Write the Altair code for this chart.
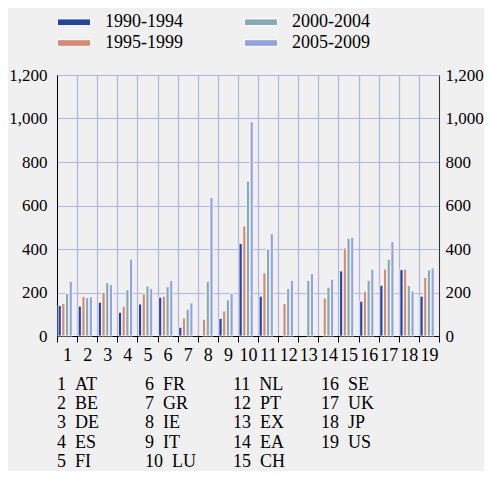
import altair as alt
import pandas as pd

groups = list(range(1, 20))
codes = ["AT", "BE", "DE", "ES", "FI", "FR", "GR", "IE", "IT", "LU",
         "NL", "PT", "EX", "EA", "CH", "SE", "UK", "JP", "US"]
periods = ["1990-1994", "1995-1999", "2000-2004", "2005-2009"]
v1990 = [140, 137, 155, 109, 147, 178, 40, None, 81, 425, 183, None, None, None, 299, 160, 233, 305, 183]
v1995 = [150, 181, 201, 137, 193, 183, 83, 77, 115, 506, 290, 149, None, 175, 404, 206, 308, 308, 269]
v2000 = [195, 176, 245, 213, 230, 227, 123, 252, 166, 712, 400, 218, 256, 224, 450, 256, 353, 232, 304]
v2005 = [252, 180, 236, 353, 219, 255, 152, 637, 196, 985, 471, 256, 287, 261, 454, 307, 434, 207, 313]
colors = ["#1f45a5", "#d98a72", "#86aab4", "#95a3dc"]

rows = []
for p, vals in zip(periods, [v1990, v1995, v2000, v2005]):
    for g, v in zip(groups, vals):
        if v is not None:
            rows.append({"group": g, "period": p, "value": v})
df = pd.DataFrame(rows)

labels = [("\u2007" if g < 10 else "") + f"{g}\u00a0\u00a0{c}" for g, c in zip(groups, codes)]
df_codes = pd.DataFrame({"label": labels})

FONT = "Liberation Serif"
GRID = "#b0b4e2"

x_enc = alt.X("group:O", title=None,
              scale=alt.Scale(paddingInner=0, paddingOuter=0),
              axis=alt.Axis(labelAngle=0, tickBand="extent", grid=True, gridColor=GRID,
                            gridWidth=1.2, domainColor="#000000", tickColor="#000000",
                            tickSize=6, labelPadding=4, labelFont=FONT, labelFontSize=18,
                            labelColor="#000000"))
yvals = [0, 200, 400, 600, 800, 1000, 1200]
yscale = alt.Scale(domain=[0, 1200], nice=False)

bars = alt.Chart(df).mark_bar(stroke="white", strokeWidth=0.8).encode(
    x=x_enc,
    xOffset=alt.XOffset("period:N",
                        scale=alt.Scale(domain=periods + ["pad"], paddingInner=0.15, paddingOuter=0.3)),
    y=alt.Y("value:Q", title=None, scale=yscale,
            axis=alt.Axis(orient="left", values=yvals, format=",d", grid=True, gridColor=GRID,
                          gridWidth=1.2, ticks=False, domainColor="#000000", labelPadding=10,
                          labelFont=FONT, labelFontSize=17, labelColor="#000000")),
    color=alt.Color("period:N",
                    scale=alt.Scale(domain=periods, range=colors),
                    legend=alt.Legend(title=None, orient="none", direction="vertical",
                                      legendX=7.5, legendY=-62.5,
                                      columns=2, columnPadding=59, rowPadding=2,
                                      symbolType="M-1.83,-0.37H1.83V0.37H-1.83Z", symbolSize=324,
                                      symbolStrokeColor="white", symbolStrokeWidth=1,
                                      labelOffset=21.5, labelFont=FONT, labelFontSize=18,
                                      labelColor="#000000", padding=0)),
)

bars_right = alt.Chart(df).mark_bar(opacity=0).encode(
    x=alt.X("group:O"),
    y=alt.Y("value:Q", title=None, scale=yscale,
            axis=alt.Axis(orient="right", values=yvals, format=",d", grid=False, ticks=False,
                          domainColor="#333333", labelPadding=6, labelFont=FONT,
                          labelFontSize=17, labelColor="#000000")),
)

code_layer = alt.Chart(df_codes).mark_point(opacity=0, size=0).encode(
    shape=alt.Shape("label:N", scale=alt.Scale(domain=labels),
                    legend=alt.Legend(title=None, orient="none", direction="vertical",
                                      legendX=-18, legendY=301,
                                      columns=4, gridAlign="all", columnPadding=17,
                                      rowPadding=1.2, symbolSize=0, symbolOpacity=0,
                                      symbolStrokeWidth=0, labelOffset=0, labelFont=FONT,
                                      labelFontSize=18, labelColor="#000000", padding=0,
                                      labelLimit=200)),
)

chart = alt.layer(bars, bars_right, code_layer).resolve_scale(
    y="shared"
).resolve_axis(y="independent").properties(
    width=382, height=261,
    autosize=alt.AutoSizeParams(type="none"),
    padding={"left": 49, "top": 67, "right": 45, "bottom": 135},
    background="#f0f0f0",
).configure_view(stroke=None)

chart.save("out.html", embed_options={"renderer": "svg", "actions": False})
